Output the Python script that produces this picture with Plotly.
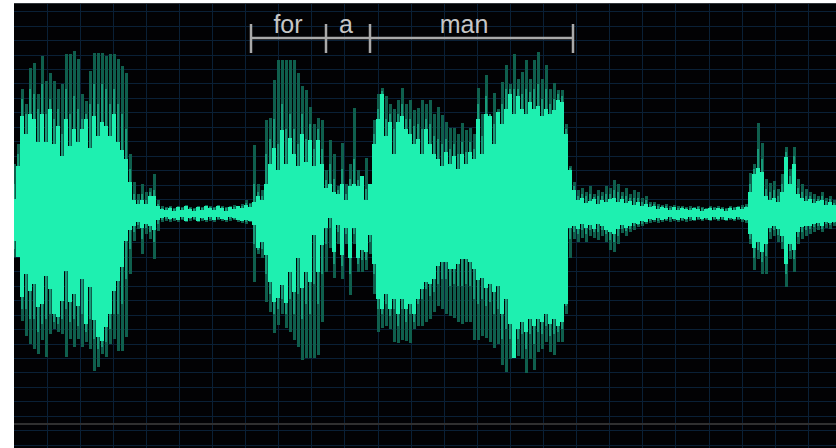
import plotly.graph_objects as go

# Waveform envelope, one value every 4 time units starting at 14 (rows of 10).
spike_top = [
50,70,125,110,146,151,120,158,133,141,
133,125,130,160,160,163,155,120,113,143,
161,161,161,158,160,160,155,148,141,60,
32,20,30,22,26,40,14,8,7,8,
6,8,7,9,7,6,8,7,9,8,
7,9,8,7,8,9,8,10,14,11,
69,30,24,94,96,134,154,154,154,154,
154,141,128,124,107,90,96,94,44,74,
60,28,71,30,50,106,44,30,56,20,
94,120,126,118,110,105,114,126,110,114,
104,106,114,110,114,100,107,99,92,86,
86,80,91,84,86,80,126,100,139,95,
121,105,132,149,130,160,135,142,154,135,
154,162,135,149,125,131,124,124,90,48,
32,24,26,22,28,20,24,22,28,26,
34,30,22,26,20,24,22,16,18,12,
12,10,9,10,8,9,8,8,7,8,
7,8,7,6,8,7,8,7,6,8,
7,8,9,10,41,50,91,71,35,31,
33,25,40,67,45,67,35,30,25,22,
20,18,22,16,18,14]
haze_top = [
30,60,115,100,125,120,105,130,100,115,
95,105,80,125,100,118,105,95,100,110,
130,110,130,125,110,125,110,100,85,45,
20,14,20,14,22,24,10,6,6,7,
5,7,6,7,6,5,7,6,7,7,
6,8,7,6,7,7,7,8,11,10,
30,22,18,60,75,95,70,110,85,100,
85,70,100,75,90,65,85,65,34,50,
35,24,45,20,35,55,34,32,25,24,
80,105,123,95,100,85,100,110,95,95,
88,90,85,95,90,78,75,70,75,65,
70,60,72,62,72,65,110,78,118,100,
90,102,110,125,125,125,125,120,125,122,
125,130,115,125,110,115,120,118,85,46,
28,18,20,18,20,17,18,18,20,20,
24,22,18,18,16,16,16,12,14,10,
10,8,8,8,6,7,6,7,6,6,
6,7,6,5,7,6,6,6,5,7,
6,7,7,8,30,45,65,55,25,22,
24,18,30,62,38,58,26,22,18,18,
15,15,18,13,15,11]
core_top = [
15,48,98,80,100,95,72,100,72,105,
70,88,58,95,68,85,72,85,95,66,
98,78,92,88,78,100,72,64,55,32,
14,10,14,10,18,18,8,5,4,6,
3,7,4,8,5,3,7,4,8,6,
4,8,6,3,7,5,8,6,9,7,
12,18,14,30,50,66,44,84,50,76,
60,48,80,52,74,48,74,50,26,30,
22,20,30,14,28,30,28,38,14,30,
70,95,120,78,92,60,92,98,85,80,
70,75,60,85,70,60,55,48,62,50,
58,45,60,50,62,55,95,60,100,98,
70,102,90,105,120,100,118,105,100,112,
105,108,98,105,100,104,114,112,80,44,
24,14,16,11,13,15,10,14,12,15,
16,12,15,11,13,9,12,8,10,7,
8,5,7,6,4,7,4,6,5,4,
6,5,3,5,6,4,6,5,3,6,
4,7,5,7,22,40,46,42,18,14,
16,12,22,57,30,50,20,16,13,15,
11,13,14,9,12,9]
spike_bottom = [
43,43,107,122,130,135,140,126,143,120,
115,118,120,143,125,133,125,133,128,135,
157,153,140,143,130,125,137,137,123,60,
27,15,40,20,25,45,17,8,7,8,
7,8,6,8,7,6,8,7,8,7,
8,6,7,8,7,6,8,9,10,8,
68,40,44,88,98,119,111,100,114,118,
126,133,146,144,144,144,141,108,58,34,
64,30,65,30,81,30,58,58,56,40,
80,118,114,112,115,128,129,126,127,129,
115,112,112,108,105,98,92,95,100,102,
104,108,110,108,108,126,126,122,124,128,
134,130,151,158,145,144,142,145,159,145,
156,138,135,128,138,141,128,128,100,44,
25,28,24,28,22,24,26,22,28,36,
38,30,19,22,18,16,13,12,10,9,
8,9,8,7,8,7,8,7,8,7,
7,6,7,6,7,6,7,6,7,6,
7,6,8,9,30,56,45,60,60,25,
22,28,35,73,45,58,30,25,22,20,
18,16,18,14,15,12]
haze_bottom = [
35,43,95,95,105,105,118,110,105,100,
108,110,105,95,108,105,112,100,118,105,
125,135,133,128,115,100,100,90,65,35,
18,11,25,14,18,28,10,6,5,6,
5,6,5,7,5,5,7,5,6,5,
6,5,5,6,5,5,6,7,8,7,
30,36,35,60,80,100,95,85,100,85,
100,80,105,90,100,70,90,60,30,14,
50,18,52,20,60,20,50,46,46,28,
60,95,100,90,102,95,112,95,108,100,
108,90,85,75,82,78,70,65,65,72,
70,72,72,70,72,85,90,85,92,88,
100,95,125,115,125,144,125,120,135,120,
130,118,120,112,122,120,118,115,92,25,
18,20,16,20,16,18,18,16,20,26,
28,22,15,17,15,12,11,10,8,7,
6,7,6,6,6,5,6,6,6,5,
6,5,6,5,6,5,6,5,6,5,
6,5,6,7,25,44,36,48,42,18,
16,21,28,60,37,45,23,18,16,15,
13,12,15,10,11,9]
core_bottom = [
27,43,83,60,77,70,93,90,62,75,
100,103,87,57,88,80,92,65,110,73,
106,123,127,113,100,77,67,53,27,16,
12,8,14,10,12,16,6,4,3,5,
4,6,3,7,4,3,7,4,6,3,
6,3,5,6,3,4,6,7,6,7,
11,34,28,41,68,88,84,71,89,58,
78,44,74,58,68,21,58,31,14,4,
38,11,41,14,44,14,44,36,38,21,
50,85,95,80,95,85,100,85,95,90,
100,85,75,68,70,65,52,48,48,55,
55,50,45,45,48,55,66,64,74,70,
78,72,100,85,110,144,115,108,118,105,
112,105,108,100,110,105,112,108,90,14,
12,15,10,14,11,15,10,12,16,18,
20,15,11,14,12,9,10,7,8,5,
6,4,6,5,3,5,6,4,5,3,
6,3,5,4,6,3,5,3,6,4,
5,3,5,6,20,34,28,38,30,14,
12,15,22,50,30,36,18,13,12,12,
10,9,12,8,9,8]

time = [14 + 4 * i for i in range(len(core_top))]

words = ["for", "a", "man"]
word_edges = [251, 326, 370, 573]
word_centres = [288, 346, 464]
bracket_level = 176
bracket_tick_top = 190
bracket_tick_bottom = 161
label_level = 187
base_level = -210

X_RANGE = [14, 836]
Y_RANGE = [-234, 210]
CORE = "#1ef0b0"
HAZE = "#189a78"
SPIKE = "#0f5f4d"
GRID = "#0a2036"
BRACKET = "#a9a9a9"

fig = go.Figure()
for vals_top, vals_bot, colour, w in ((spike_top, spike_bottom, SPIKE, 3.0),
                                      (haze_top, haze_bottom, HAZE, 2.4),
                                      (core_top, core_bottom, CORE, 4.2)):
    for vals, sign in ((vals_top, 1), (vals_bot, -1)):
        fig.add_trace(go.Bar(x=time, y=[sign * v for v in vals], width=w,
                             marker=dict(color=colour, line=dict(width=0)), hoverinfo="skip"))

fig.add_trace(go.Scatter(x=X_RANGE, y=[base_level, base_level], mode="lines",
                         line=dict(color="#303030", width=2), hoverinfo="skip"))

bx, by = [word_edges[0], word_edges[-1], None], [bracket_level, bracket_level, None]
for e in word_edges:
    bx += [e, e, None]
    by += [bracket_tick_bottom, bracket_tick_top, None]
fig.add_trace(go.Scatter(x=bx, y=by, mode="lines", line=dict(color=BRACKET, width=2.5), hoverinfo="skip"))
fig.add_trace(go.Scatter(x=word_centres, y=[label_level] * len(words), mode="text", text=words,
                         textposition="middle center",
                         textfont=dict(family="Liberation Sans", size=25, color="#c6c6c6"),
                         hoverinfo="skip"))

fig.update_layout(
    width=836, height=448, margin=dict(l=14, r=0, t=4, b=0),
    paper_bgcolor="white", plot_bgcolor="#020204",
    barmode="overlay", bargap=0, showlegend=False,
    xaxis=dict(range=X_RANGE, side="top", tick0=47, dtick=33.1, gridcolor=GRID, gridwidth=1,
               showticklabels=False, ticks="", zeroline=False, showline=True,
               linecolor="#33373b", linewidth=1),
    yaxis=dict(range=Y_RANGE, tick0=0, dtick=14.45, gridcolor=GRID, gridwidth=1,
               showticklabels=False, ticks="", zeroline=False),
)
fig.write_html("out.html", config={"displayModeBar": False},
               post_script="document.body.style.margin='0';document.body.style.overflow='hidden';")
